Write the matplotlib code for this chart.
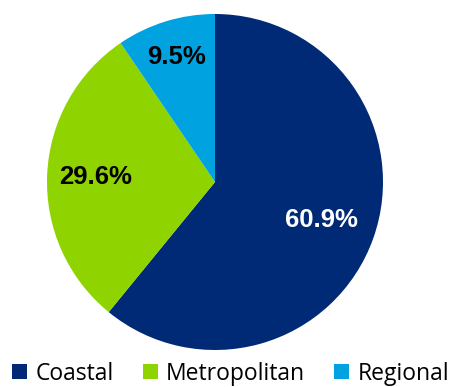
import matplotlib
matplotlib.use("Agg")
import matplotlib.pyplot as plt
import numpy as np

# Data
regions = ['Coastal', 'Metropolitan', 'Regional']
shares = [60.9, 29.6, 9.5]
colors = ['#002A75', '#8FD300', '#00A2DF']
label_colors = ['white', 'black', 'black']
label_dist = [0.67, 0.71, 0.78]

fig = plt.figure(figsize=(4.51, 3.87), dpi=100)
ax = fig.add_axes([47 / 451, 37 / 387, 336 / 451, 336 / 387])

wedges, _ = ax.pie(shares, colors=colors, startangle=90, counterclock=False,
                   radius=1.0, wedgeprops=dict(linewidth=0))
ax.set_xlim(-1, 1)
ax.set_ylim(-1, 1)
ax.set_aspect('equal')
ax.axis('off')

# percentage labels
for w, val, c, d in zip(wedges, shares, label_colors, label_dist):
    ang = np.deg2rad((w.theta1 + w.theta2) / 2)
    ax.text(d * np.cos(ang), d * np.sin(ang), f'{val:.1f}%', color=c,
            ha='center', va='center', fontsize=18.5, fontweight='bold',
            family='Liberation Sans')

leg = fig.legend(wedges, regions, loc='lower center', bbox_to_anchor=(0.511, -0.05),
                 ncol=3, frameon=False, handlelength=0.66, handleheight=0.66,
                 handletextpad=0.36, columnspacing=1.26,
                 prop={'family': 'Open Sans', 'size': 16.5})

fig.savefig('out.png', dpi=100)
